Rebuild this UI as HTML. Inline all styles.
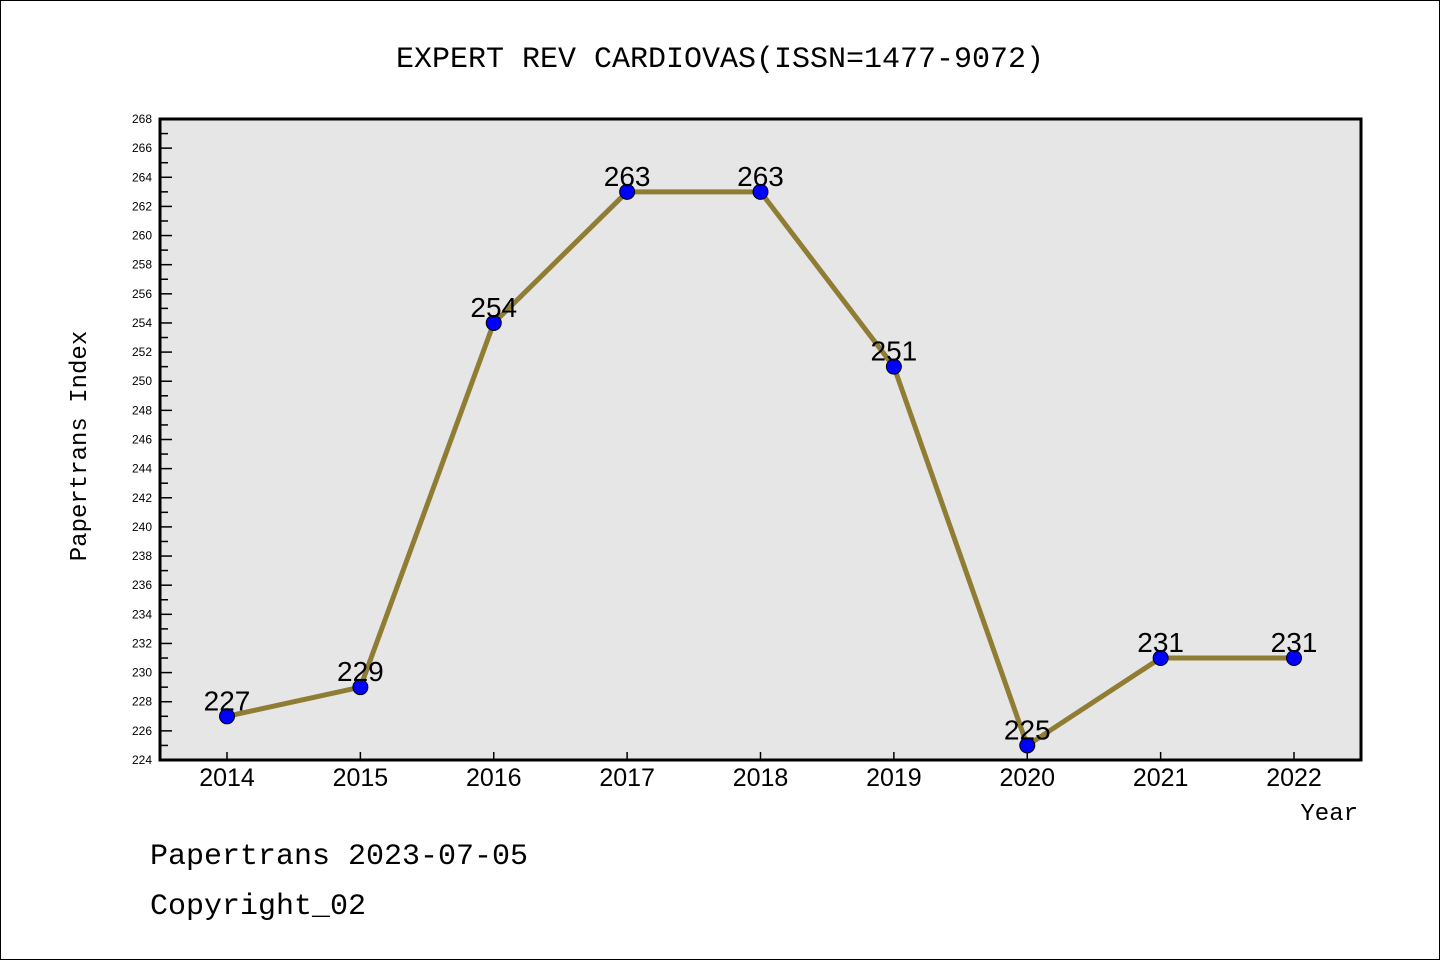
<!DOCTYPE html>
<html><head><meta charset="utf-8"><style>
html,body{margin:0;padding:0;background:#fff;}
svg{display:block;font-family:"Liberation Mono","Noto Sans CJK SC",monospace;}
</style></head><body>
<svg id="chart" width="1440" height="960" viewBox="0 0 1440 960">
<rect x="0.5" y="0.5" width="1439" height="959" fill="#fff" stroke="#000"/>
<text x="720" y="67" text-anchor="middle" font-size="30">EXPERT REV CARDIOVAS(ISSN=1477-9072)</text>
<rect x="160" y="119" width="1201" height="641" fill="#e6e6e6"/>
<g id="ticks"></g>
<g id="series"></g>
<rect x="160" y="119" width="1201" height="641" fill="none" stroke="#000" stroke-width="3"/>
<text x="86" y="446" text-anchor="middle" font-size="24" transform="rotate(-90 86 446)">Papertrans Index</text>
<text x="1358" y="820" text-anchor="end" font-size="24">Year</text>
<text x="150" y="864" font-size="30">Papertrans 2023-07-05</text>
<text x="150" y="914" font-size="30">Copyright_02</text>
</svg>
<script>
const years=[2014,2015,2016,2017,2018,2019,2020,2021,2022];
const values=[227,229,254,263,263,251,225,231,231];
const yMin=224,yMax=268,yStep=2;
const NS="http://www.w3.org/2000/svg";
function X(i){return 227+i*(1294-227)/(years.length-1);}
function Y(v){return 760-(v-yMin)*(641/(yMax-yMin));}
function mk(tag,attrs,parent){const e=document.createElementNS(NS,tag);for(const k in attrs)e.setAttribute(k,attrs[k]);parent.appendChild(e);return e;}
const tg=document.getElementById('ticks'),sg=document.getElementById('series');
for(let v=yMin;v<=yMax;v+=yStep){
  const l=mk('line',{x1:160,x2:172,y1:Y(v),y2:Y(v),stroke:'#000','stroke-width':1.5},tg);
  
  
  if(v<yMax){const m=mk('line',{x1:160,x2:168,y1:Y(v+1),y2:Y(v+1),stroke:'#000','stroke-width':1.5},tg);
  
  }
  const t=mk('text',{x:152,y:Y(v)+4,'text-anchor':'end','font-size':12,'font-family':'Liberation Sans, sans-serif'},tg);
  t.textContent=v;
  
  
}
years.forEach((yr,i)=>{
  const l=mk('line',{x1:X(i),x2:X(i),y1:752,y2:760,stroke:'#000','stroke-width':1.5},tg);
  
  
  const t=mk('text',{x:X(i),y:786,'text-anchor':'middle','font-size':25,'font-family':'Liberation Sans, sans-serif'},tg);
  t.textContent=yr;
  
  
});
const pl=mk('polyline',{points:values.map((v,i)=>X(i)+','+Y(v)).join(' '),fill:'none',stroke:'#8f7d33','stroke-width':5,'stroke-linejoin':'round'},sg);


values.forEach((v,i)=>{
  const c=mk('circle',{cx:X(i),cy:Y(v),r:7.5,fill:'#0000ff',stroke:'#000','stroke-width':1},sg);
  
  
  const t=mk('text',{x:X(i),y:Y(v)-6,'text-anchor':'middle','font-size':28,'font-family':'Liberation Sans, sans-serif'},sg);
  t.textContent=v;
  
  
});
</script>
</body></html>
